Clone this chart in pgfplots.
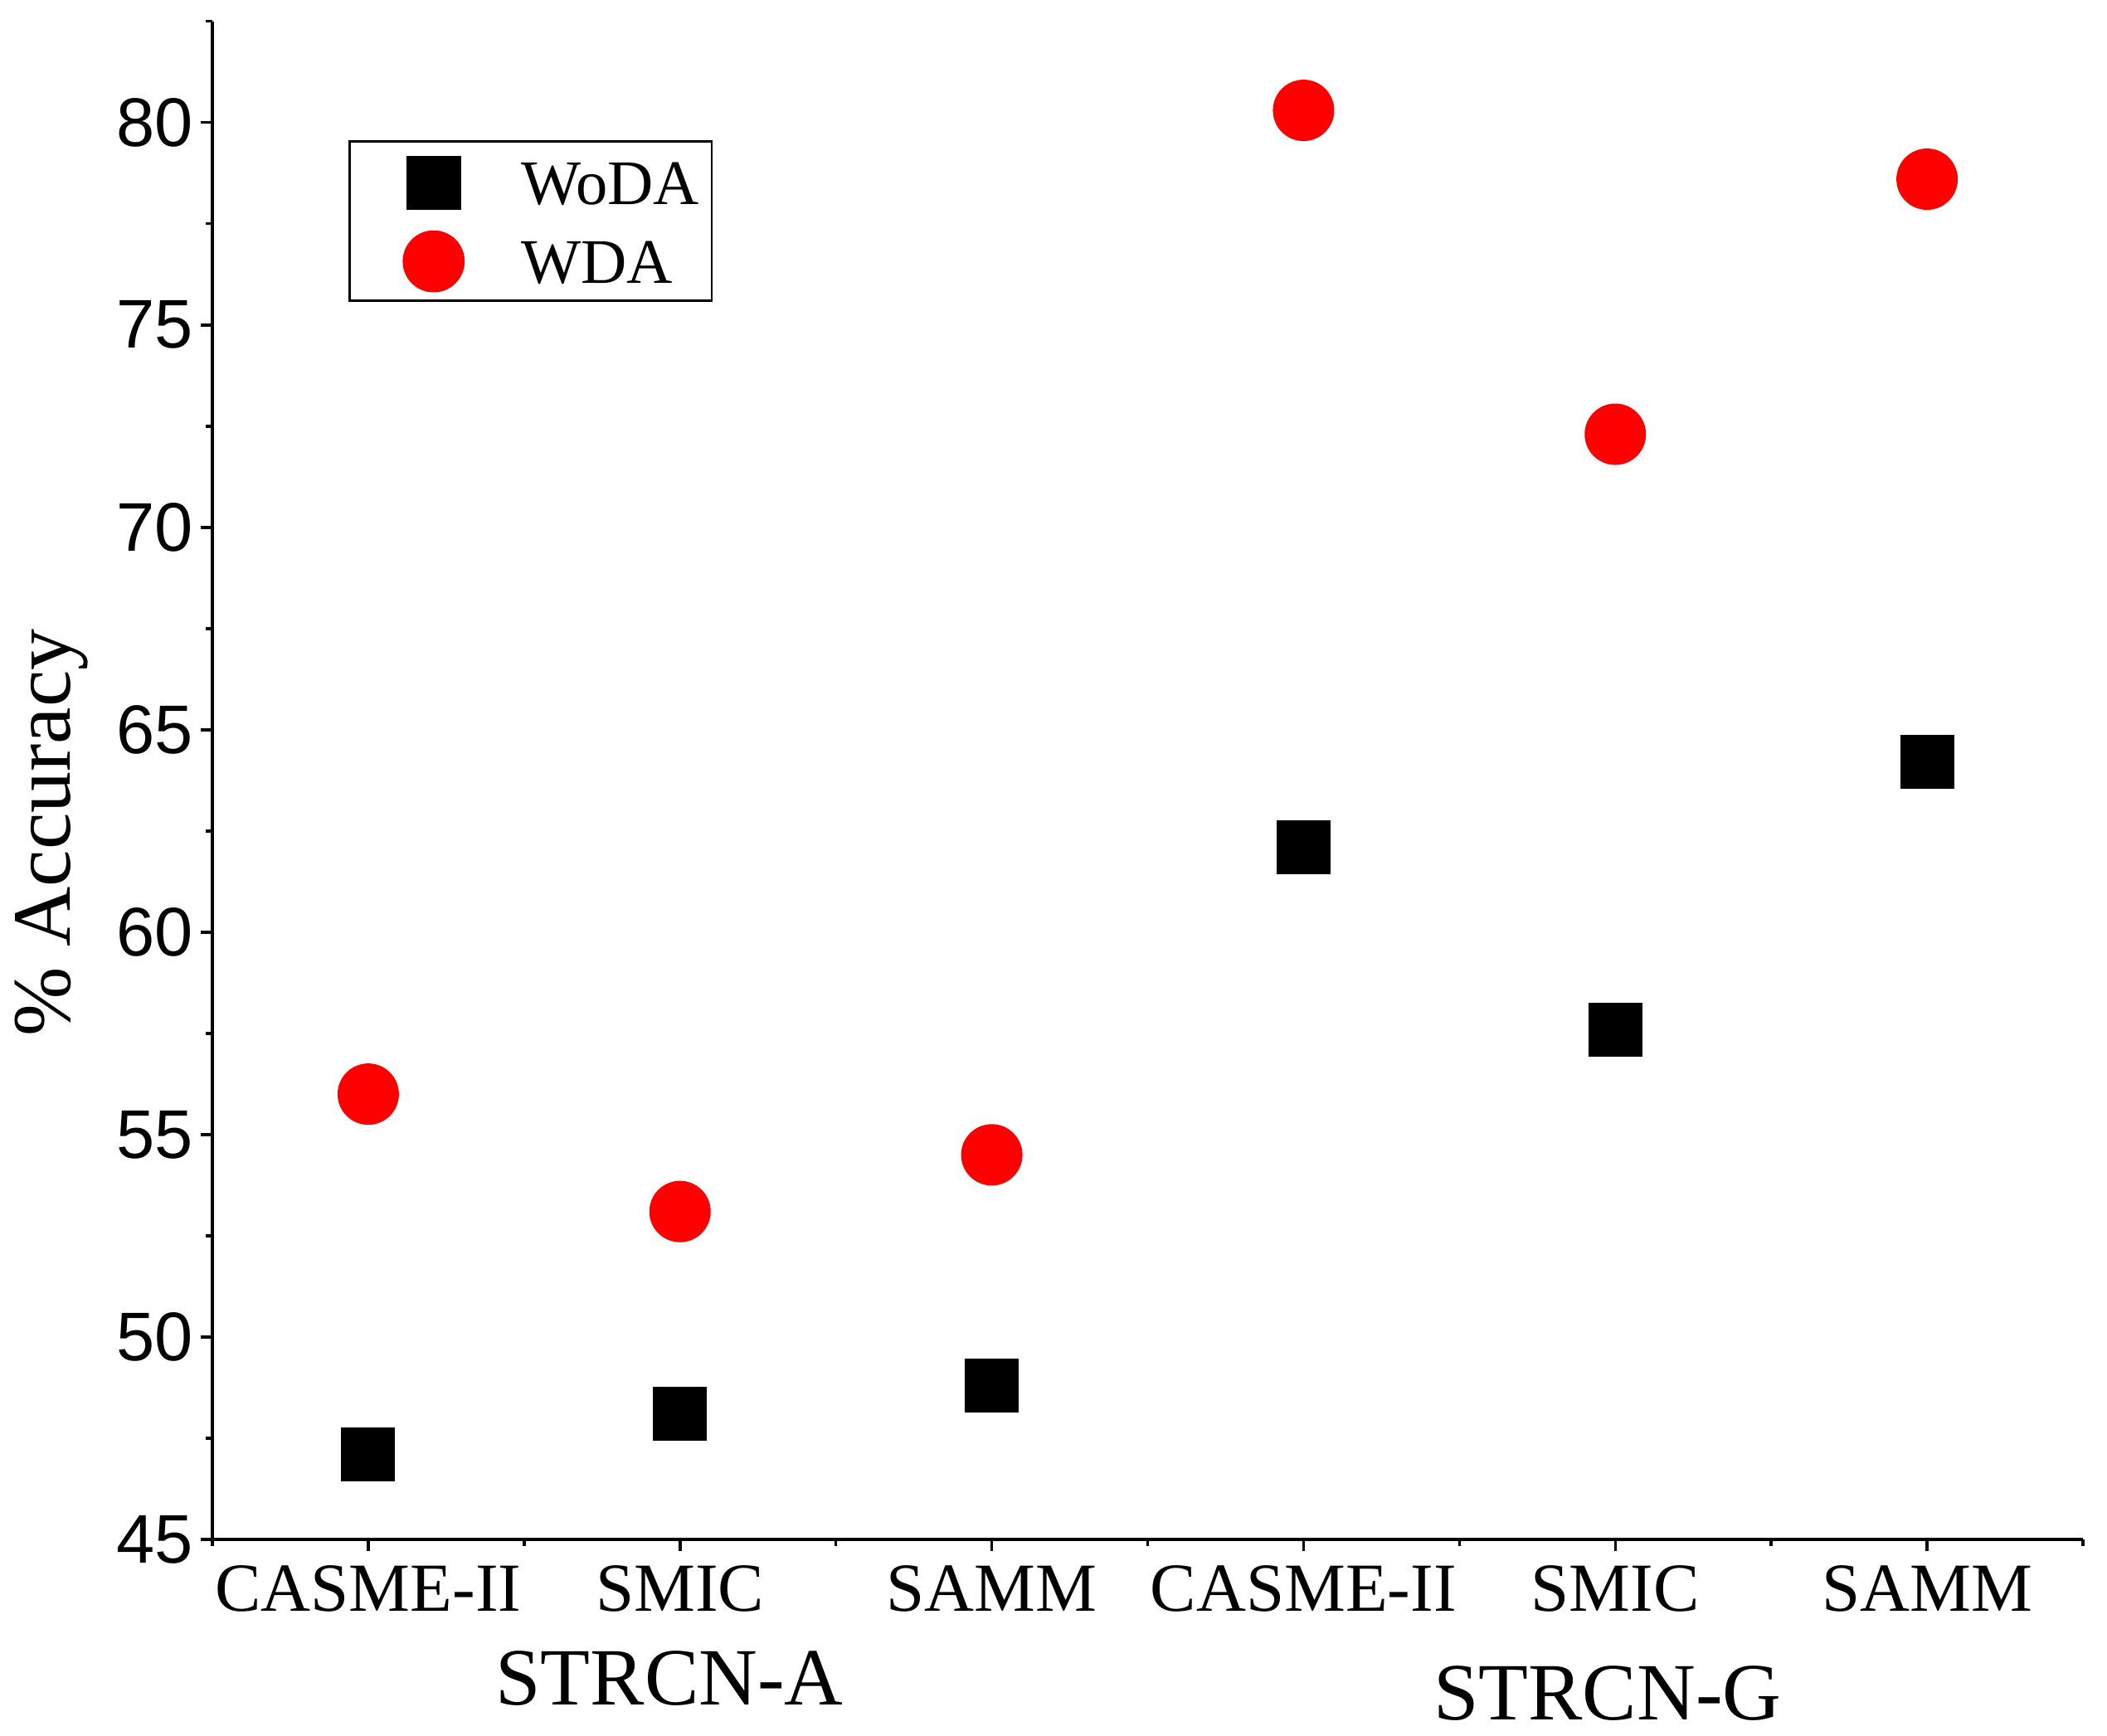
\documentclass[border=0pt]{standalone}
\usepackage{fontspec}
\setmainfont{Liberation Serif}
\newfontfamily\arialf{Liberation Sans}
\usepackage{pgfplots}
\pgfplotsset{compat=1.18}
\begin{document}
\begin{tikzpicture}
\begin{axis}[
  scale only axis, width=451pt, height=366.06pt,
  xmin=-0.5, xmax=5.5, ymin=45, ymax=82.5,
  axis x line=bottom, axis y line=left,
  axis line style={line width=0.7pt, -},
  xtick={0,1,2,3,4,5},
  xticklabels={CASME-II,SMIC,SAMM,CASME-II,SMIC,SAMM},
  minor xtick={-0.5,0.5,1.5,2.5,3.5,4.5,5.5},
  ytick={45,50,...,80},
  minor ytick={47.5,52.5,...,82.5},
  tick align=outside,
  major tick length=2.7pt, minor tick length=1.5pt,
  tick style={black, line width=0.7pt},
  xticklabel style={font=\fontsize{16.6}{19}\selectfont, inner ysep=3.4pt},
  yticklabel style={font=\arialf\fontsize{16.6}{19}\selectfont, inner xsep=1.8pt},
  /pgf/number format/assume math mode=true,
  ylabel={\% Accuracy},
  ylabel style={font=\fontsize{20}{24}\selectfont, at={(axis description cs:-0.0858,0.4655)}, anchor=center},
  clip=false,
  legend cell align=left,
  legend style={at={(rel axis cs:0.0727,0.9217)}, anchor=north west,
    draw=black, line width=0.55pt, fill=white,
    inner xsep=3pt, inner ysep=0.3pt, row sep=0pt, column sep=13.85pt,
    font=\fontsize{15.3}{18}\selectfont,
    nodes={inner sep=0pt}, cells={anchor=base west}},
  legend image code/.code={
    \path[draw=none, fill=none] (-17.3pt,-3.9pt) rectangle (7.25pt,15pt);
    \draw[#1] plot coordinates {(0pt,5.25pt)};
  },
]
\addplot[only marks, mark=square*, mark size=6.3pt, black, mark options={draw=none, fill=black}]
  coordinates {(0,47.1) (1,48.1) (2,48.8) (3,62.1) (4,57.6) (5,64.2)};
\addlegendentry{WoDA}
\addplot[only marks, mark=*, mark size=7.2pt, red, mark options={draw=none, fill=red}]
  coordinates {(0,56.0) (1,53.1) (2,54.5) (3,80.3) (4,72.3) (5,78.6)};
\addlegendentry{WDA}
\node[anchor=base, yshift=-39.8pt, font=\fontsize{19.6}{23}\selectfont] at (axis cs:0.966,45) {STRCN-A};
\node[anchor=base, yshift=-43.5pt, font=\fontsize{19.6}{23}\selectfont] at (axis cs:3.975,45) {STRCN-G};
\end{axis}
\path (current axis.south west) ++(-51.2pt,-47.2pt);
\path (current axis.north east) ++(5.8pt,5.14pt);
\end{tikzpicture}
\end{document}
